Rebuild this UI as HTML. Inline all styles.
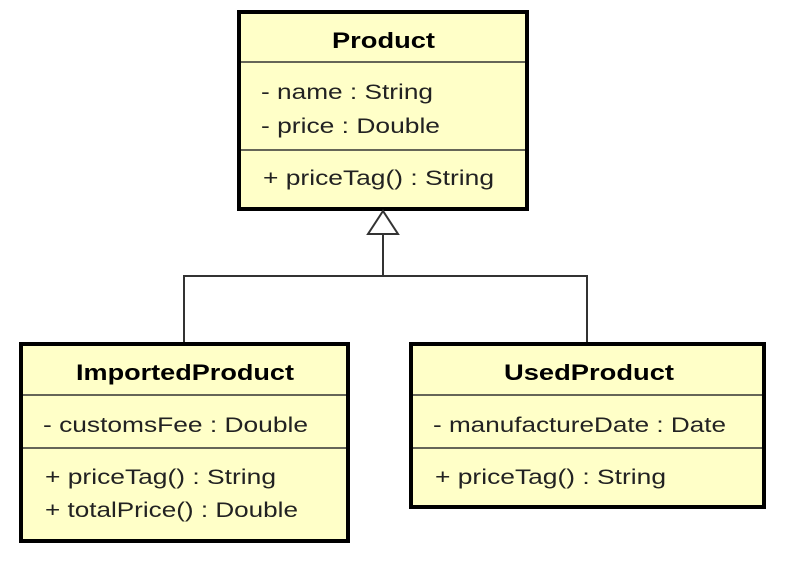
<!DOCTYPE html>
<html><head><style>html,body{margin:0;padding:0;background:#fff}svg{display:block}</style></head>
<body>
<svg width="809" height="566" viewBox="0 0 809 566" xmlns="http://www.w3.org/2000/svg" font-family="Liberation Sans, sans-serif" fill="#222">
<g fill="#ffffc8" stroke="#000" stroke-width="4">
<rect x="239" y="12" width="288" height="197"/>
<rect x="21" y="344" width="327" height="197"/>
<rect x="411" y="344" width="353" height="163"/>
</g>
<g stroke="#333" stroke-width="1.5">
<line x1="241" y1="62" x2="525" y2="62"/><line x1="241" y1="150" x2="525" y2="150"/>
<line x1="23" y1="395" x2="346" y2="395"/><line x1="23" y1="448" x2="346" y2="448"/>
<line x1="413" y1="395" x2="762" y2="395"/><line x1="413" y1="448" x2="762" y2="448"/>
</g>
<g stroke="#333" stroke-width="2" fill="none">
<polyline points="184,342 184,276 587,276 587,342"/>
<line x1="383" y1="276" x2="383" y2="234"/>
<polygon points="383,211 368,234 398,234" fill="#fff"/>
</g>
<g font-weight="bold" font-size="22" fill="#000">
<text x="332" y="48" textLength="103" lengthAdjust="spacingAndGlyphs">Product</text>
<text x="76" y="380" textLength="218" lengthAdjust="spacingAndGlyphs">ImportedProduct</text>
<text x="504" y="380" textLength="170" lengthAdjust="spacingAndGlyphs">UsedProduct</text>
</g>
<g font-size="21" fill="#222">
<text x="261" y="99" textLength="172" lengthAdjust="spacingAndGlyphs">- name : String</text>
<text x="261" y="133" textLength="179" lengthAdjust="spacingAndGlyphs">- price : Double</text>
<text x="263" y="185" textLength="231" lengthAdjust="spacingAndGlyphs">+ priceTag() : String</text>
<text x="43" y="432" textLength="265" lengthAdjust="spacingAndGlyphs">- customsFee : Double</text>
<text x="45" y="484" textLength="231" lengthAdjust="spacingAndGlyphs">+ priceTag() : String</text>
<text x="45" y="517" textLength="253" lengthAdjust="spacingAndGlyphs">+ totalPrice() : Double</text>
<text x="433" y="432" textLength="293" lengthAdjust="spacingAndGlyphs">- manufactureDate : Date</text>
<text x="435" y="484" textLength="231" lengthAdjust="spacingAndGlyphs">+ priceTag() : String</text>
</g>
</svg>
</body></html>
